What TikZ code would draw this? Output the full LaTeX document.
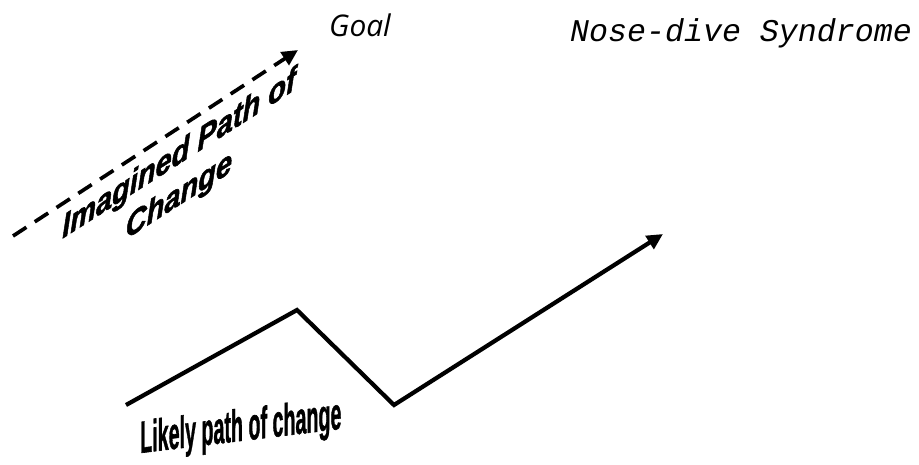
\documentclass[tikz,border=0pt]{standalone}
\usepackage{fontspec}
\setmainfont{Liberation Sans}
\newfontfamily\goalfont{Open Sans}
\newfontfamily\monofont{Liberation Mono}
\newfontfamily\heavyfont{Liberation Sans}[BoldFeatures={FakeBold=1.4},BoldItalicFeatures={FakeBold=1.8}]
\usetikzlibrary{arrows.meta}

\begin{document}
\begin{tikzpicture}[x=0.02cm,y=-0.02cm,
    pathline/.style={line width=2.4pt,line join=miter,-{Triangle[length=0.32cm,width=0.3cm]}},
    imagline/.style={pathline,line width=2.1pt,dash pattern=on 0.32cm off 0.2cm}]
  \useasboundingbox (0,0) rectangle (919,464);
  % Imagined path (dashed)
  \coordinate (istart) at (13,236);
  \coordinate (igoal) at (298,50);
  \draw[imagline] (istart) -- (igoal);
  \node[font=\heavyfont\bfseries\itshape\fontsize{17}{21}\selectfont,align=center,
        yslant=0.64,xscale=0.97,yscale=1.12,inner sep=0pt] (imagtext) at (179,176) {Imagined Path of\\Change};
  % Likely path (solid)
  \coordinate (lstart) at (126,405);
  \coordinate (lpeak) at (297,310);
  \coordinate (lvalley) at (394,405);
  \coordinate (lend) at (663,234);
  \draw[pathline] (lstart) -- (lpeak) -- (lvalley) -- (lend);
  \node[font=\heavyfont\bfseries\fontsize{16}{18}\selectfont,anchor=base west,
        yslant=0.12,xscale=0.7,yscale=1.6,inner sep=0pt] (liketext) at (140,453) {Likely path of change};
  % Titles
  \node[font=\goalfont\itshape\fontsize{17}{20}\selectfont,inner sep=0pt] (goal) at (360,25) {Goal};
  \node[font=\monofont\itshape\fontsize{18}{22}\selectfont,inner sep=0pt] (title) at (741,33) {Nose-dive Syndrome};
\end{tikzpicture}
\end{document}
